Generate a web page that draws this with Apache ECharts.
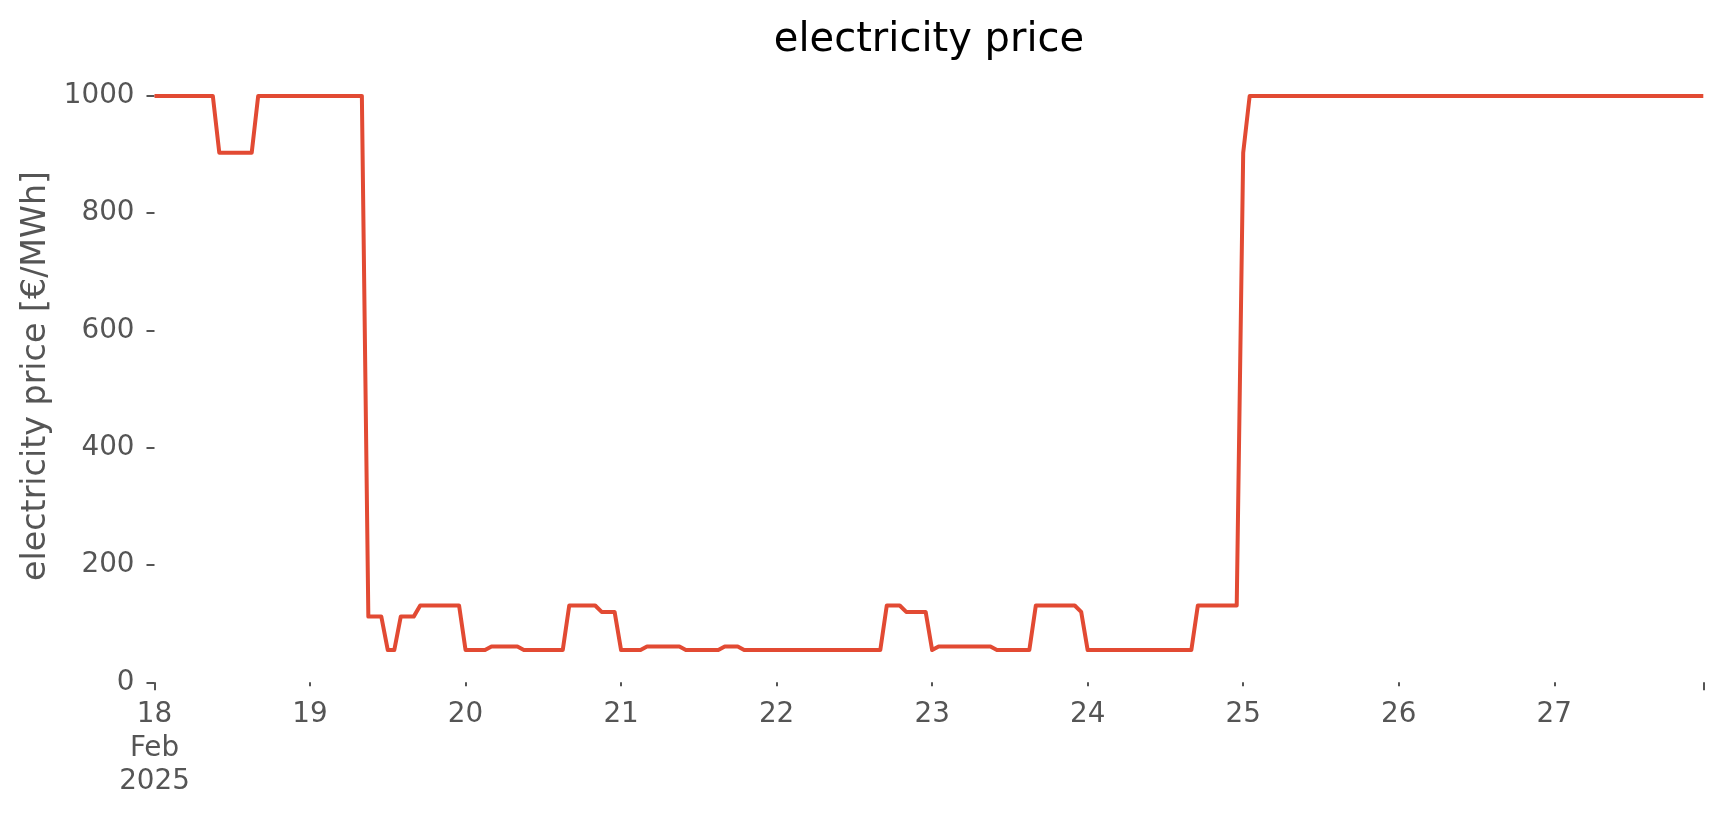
<!DOCTYPE html>
<html>
<head>
<meta charset="utf-8">
<script src="https://cdn.jsdelivr.net/npm/echarts@6/dist/echarts.min.js"></script>
<style>
html,body{margin:0;padding:0;background:#fff;}
#chart{width:1724px;height:815px;}
</style>
</head>
<body>
<div id="chart"></div>
<script>
// Hourly electricity price, starting 18 Feb 2025 00:00 (one value per hour)
const startDate = '2025-02-18 00:00';
const hourlyPrice = [
  // 18 Feb
  1000,1000,1000,1000,1000,1000,1000,1000,1000,1000,903,903,903,903,903,903,1000,1000,1000,1000,1000,1000,1000,1000,
  // 19 Feb
  1000,1000,1000,1000,1000,1000,1000,1000,1000,112,112,112,55,55,112,112,112,131,131,131,131,131,131,131,
  // 20 Feb
  55,55,55,55,61,61,61,61,61,55,55,55,55,55,55,55,131,131,131,131,131,120,120,120,
  // 21 Feb
  55,55,55,55,61,61,61,61,61,61,55,55,55,55,55,55,61,61,61,55,55,55,55,55,
  // 22 Feb
  55,55,55,55,55,55,55,55,55,55,55,55,55,55,55,55,55,131,131,131,120,120,120,120,
  // 23 Feb
  55,61,61,61,61,61,61,61,61,61,55,55,55,55,55,55,131,131,131,131,131,131,131,120,
  // 24 Feb
  55,55,55,55,55,55,55,55,55,55,55,55,55,55,55,55,55,131,131,131,131,131,131,131,
  // 25 Feb
  903,1000,1000,1000,1000,1000,1000,1000,1000,1000,1000,1000,1000,1000,1000,1000,1000,1000,1000,1000,1000,1000,1000,1000,
  // 26 Feb
  1000,1000,1000,1000,1000,1000,1000,1000,1000,1000,1000,1000,1000,1000,1000,1000,1000,1000,1000,1000,1000,1000,1000,1000,
  // 27 Feb
  1000,1000,1000,1000,1000,1000,1000,1000,1000,1000,1000,1000,1000,1000,1000,1000,1000,1000,1000,1000,1000,1000,1000,1000
];
const dayTickHours = [0,24,48,72,96,120,144,168,192,216];
const dayTickLabels = ['18\nFeb\n2025','19','20','21','22','23','24','25','26','27'];
const yTicks = [0,200,400,600,800,1000];
const yTickLabels = ['0','200','400','600','800','1000'];
const majorTickHours = [0,239];

const chart = echarts.init(document.getElementById('chart'), null, {renderer:'canvas'});
const FONT = 'DejaVu Sans';
const lastHour = hourlyPrice.length - 1;

const option = {
  backgroundColor:'#ffffff',
  animation:false,
  title:{
    text:'electricity price',
    left: 924, top: 16, textAlign:'center',
    textStyle:{fontFamily:FONT,fontSize:40,fontWeight:'normal',color:'#000000'}
  },
  grid:{left:154.5,right:20.7,top:69.5,bottom:132.7,containLabel:false},
  xAxis:[{
    type:'value', min:0, max:lastHour,
    axisLine:{show:false},
    splitLine:{show:false},
    axisTick:{show:true,length:4,customValues:dayTickHours,lineStyle:{color:'#555555',width:2}},
    axisLabel:{
      customValues:dayTickHours, margin:16,
      fontFamily:FONT,fontSize:27.8,lineHeight:33.5,color:'#555555',
      formatter:function(v){const i=dayTickHours.indexOf(v);return i>=0?dayTickLabels[i]:'';}
    }
  },{
    type:'value', min:0, max:lastHour, position:'bottom',
    axisLine:{show:false}, splitLine:{show:false},
    axisTick:{show:true,length:8,customValues:majorTickHours,lineStyle:{color:'#555555',width:2}},
    axisLabel:{show:false}
  }],
  yAxis:{
    type:'value', min:0, max:1045,
    name:'electricity price [€/MWh]',
    nameLocation:'middle', nameGap:90,
    nameTextStyle:{fontFamily:FONT,fontSize:33.3,color:'#555555'},
    axisLine:{show:false},
    splitLine:{show:false},
    axisTick:{show:true,length:8,customValues:yTicks,lineStyle:{color:'#555555',width:2}},
    axisLabel:{
      customValues:yTicks,margin:20,fontFamily:FONT,fontSize:27.8,color:'#555555',
      formatter:function(v){const i=yTicks.indexOf(v);return i>=0?yTickLabels[i]:'';}
    }
  },
  series:[{
    type:'line',
    xAxisIndex:0,
    data:hourlyPrice.map((v,i)=>[i,v]),
    showSymbol:false,
    clip:false,
    lineStyle:{color:'#E24A33',width:4,join:'round'},
    itemStyle:{color:'#E24A33'}
  }]
};
chart.setOption(option);
</script>
</body>
</html>
